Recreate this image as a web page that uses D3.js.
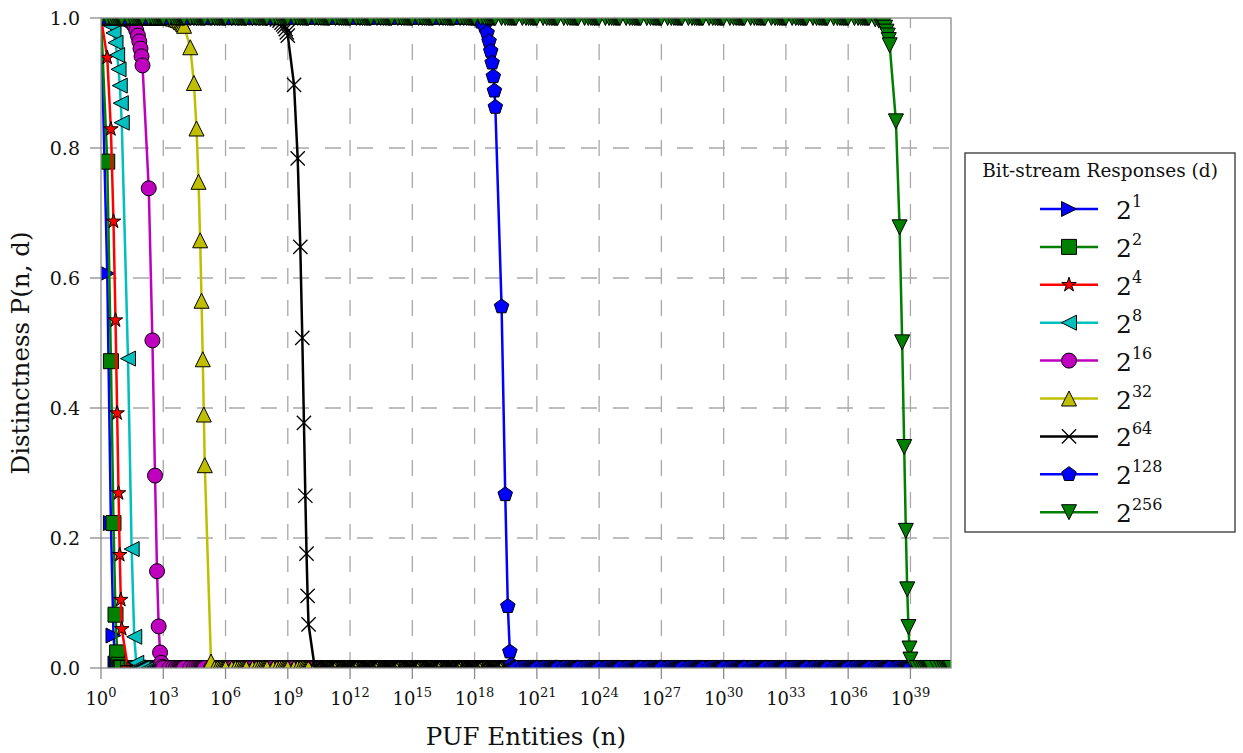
<!DOCTYPE html>
<html>
<head>
<meta charset="utf-8">
<script src="https://cdn.jsdelivr.net/npm/d3@7"></script>
<style>
  html, body { margin: 0; padding: 0; background: #fff; }
  svg { display: block; font-family: "DejaVu Serif", "Liberation Serif", serif; }
</style>
</head>
<body>
<svg id="chart" width="1243" height="753"></svg>
<script>
// ---------- data ----------
// sample grid: n = mantissa x 10^exponent
const mantissas = [1, 2, 3, 4, 5, 6, 7, 8, 9];
const exponents = [0,1,2,3,4,5,6,7,8,9,10,11,12,13,14,15,16,17,18,19,20,
                   21,22,23,24,25,26,27,28,29,30,31,32,33,34,35,36,37,38,39,40];
const xTickExponents = [0,3,6,9,12,15,18,21,24,27,30,33,36,39];
const yTicks = [0.0, 0.2, 0.4, 0.6, 0.8, 1.0];
const seriesLabels = ["1", "2", "4", "8", "16", "32", "64", "128", "256"];
const seriesColors = ["#0000ff", "#008000", "#ff0000", "#00bfbf", "#bf00bf", "#bfbf00", "#000000", "#0000ff", "#008000"];
const seriesMarkers = ["triRight", "square", "star", "triLeft", "circle", "triUp", "cross", "pentagon", "triDown"];

// transition points [n, P]; the curve sits at 1.0 before them and at 0.0 after them
const p2_1 = [[1,1],[2,0.607],[3,0.223],[4,0.050],[5,0.007],[6,0.001]];
const p2_2 = [[1,1],[2,0.779],[3,0.472],[4,0.223],[5,0.082],[6,0.024],[7,0.005],[8,0.001]];
const p2_4 = [[1,1],[2,0.939],[3,0.829],[4,0.687],[5,0.535],[6,0.392],[7,0.269],[8,0.174],[9,0.105],[10,0.060]];
const p2_8 = [[1,1],[2,0.996],[3,0.988],[4,0.977],[5,0.962],[6,0.943],[7,0.921],[8,0.896],[9,0.869],[10,0.839],
              [20,0.476],[30,0.183],[40,0.048],[50,0.008],[60,0.001]];
const p2_16 = [[10,0.999],[20,0.997],[30,0.993],[40,0.988],[50,0.981],[60,0.973],[70,0.964],[80,0.953],[90,0.941],
               [100,0.927],[200,0.738],[300,0.504],[400,0.296],[500,0.149],[600,0.064],[700,0.024],[800,0.008],[900,0.002]];
const p2_32 = [[3000,0.999],[4000,0.998],[5000,0.997],[6000,0.996],[7000,0.994],[8000,0.993],[9000,0.991],
               [10000,0.988],[20000,0.955],[30000,0.900],[40000,0.830],[50000,0.748],[60000,0.658],[70000,0.565],
               [80000,0.475],[90000,0.390],[100000,0.312],[200000,0.010]];
const p2_64 = [[2e8,0.999],[3e8,0.998],[4e8,0.996],[5e8,0.993],[6e8,0.990],[7e8,0.987],[8e8,0.983],[9e8,0.978],
               [1e9,0.973],[2e9,0.897],[3e9,0.784],[4e9,0.648],[5e9,0.508],[6e9,0.377],[7e9,0.265],[8e9,0.176],
               [9e9,0.111],[1e10,0.067]];
const p2_128 = [[1e18,0.999],[2e18,0.994],[3e18,0.987],[4e18,0.977],[5e18,0.964],[6e18,0.949],[7e18,0.931],
                [8e18,0.910],[9e18,0.888],[1e19,0.863],[2e19,0.556],[3e19,0.267],[4e19,0.095],[5e19,0.025],
                [6e19,0.005],[7e19,0.001]];
const p2_256 = [[2e37,0.998],[3e37,0.996],[4e37,0.993],[5e37,0.989],[6e37,0.985],[7e37,0.979],[8e37,0.973],
                [9e37,0.966],[1e38,0.958],[2e38,0.841],[3e38,0.678],[4e38,0.501],[5e38,0.340],[6e38,0.211],
                [7e38,0.121],[8e38,0.063],[9e38,0.030],[1e39,0.013]];
const seriesTables = [p2_1, p2_2, p2_4, p2_8, p2_16, p2_32, p2_64, p2_128, p2_256];

// ---------- layout ----------
const L = 101, R = 951, T = 18, B = 668;
const svg = d3.select("#chart");
const grid = [];
exponents.forEach(m => mantissas.forEach(k => grid.push(Number(k + "e" + m))));

const x = d3.scaleLog().domain([1, d3.max(grid)]).range([L, R]);
const y = d3.scaleLinear().domain([0, 1]).range([B, T]);

function seriesPoints(table) {
  const lx = table.map(d => Math.log10(d[0]));
  const first = lx[0], last = lx[lx.length - 1];
  return grid.map(n => {
    const ln = Math.log10(n);
    let p;
    if (ln < first - 1e-9) p = 1;
    else if (ln > last + 1e-9) p = 0;
    else {
      const i = lx.findIndex(v => Math.abs(v - ln) < 1e-9);
      p = i >= 0 ? table[i][1] : 0;
    }
    return [n, p];
  });
}

svg.append("defs").append("clipPath").attr("id", "plotclip")
  .append("rect").attr("x", L).attr("y", T).attr("width", R - L).attr("height", B - T);

// grid
const gridG = svg.append("g").attr("stroke", "#a8a8a8").attr("stroke-width", 1.3)
  .attr("stroke-dasharray", "16,16").attr("fill", "none");
yTicks.filter(v => v > 0 && v < 1).forEach(v => {
  gridG.append("line").attr("x1", L).attr("x2", R).attr("y1", y(v)).attr("y2", y(v));
});
xTickExponents.filter(e => e > 0).forEach(e => {
  const xv = x(Number("1e" + e));
  gridG.append("line").attr("x1", xv).attr("x2", xv).attr("y1", B).attr("y2", T);
});

// marker shapes
const MS = 15;
function markerPath(kind, s) {
  const h = s / 2;
  switch (kind) {
    case "triUp": return `M0,${-h}L${h},${h}L${-h},${h}Z`;
    case "triDown": return `M0,${h}L${h},${-h}L${-h},${-h}Z`;
    case "triRight": return `M${h},0L${-h},${-h}L${-h},${h}Z`;
    case "triLeft": return `M${-h},0L${h},${-h}L${h},${h}Z`;
    case "square": { const q = s * 0.5; return `M${-q},${-q}H${q}V${q}H${-q}Z`; }
    case "circle": return d3.symbol(d3.symbolCircle, Math.PI * h * h)();
    case "star": {
      const ro = h * 1.02, ri = ro * 0.382; let p = "";
      for (let i = 0; i < 10; i++) {
        const r = i % 2 ? ri : ro, a = -Math.PI / 2 + i * Math.PI / 5;
        p += (i ? "L" : "M") + (r * Math.cos(a)).toFixed(2) + "," + (r * Math.sin(a)).toFixed(2);
      }
      return p + "Z";
    }
    case "pentagon": {
      const r = h * 1.02; let p = "";
      for (let i = 0; i < 5; i++) {
        const a = -Math.PI / 2 + i * 2 * Math.PI / 5;
        p += (i ? "L" : "M") + (r * Math.cos(a)).toFixed(2) + "," + (r * Math.sin(a)).toFixed(2);
      }
      return p + "Z";
    }
    case "cross": { const q = h * 0.95; return `M${-q},${-q}L${q},${q}M${-q},${q}L${q},${-q}`; }
  }
}
function drawMarker(g, kind, color) {
  const p = g.append("path").attr("d", markerPath(kind, MS));
  if (kind === "cross") p.attr("fill", "none").attr("stroke", color).attr("stroke-width", 1.3);
  else p.attr("fill", color).attr("stroke", "#000").attr("stroke-width", 1);
}

// series
const plotG = svg.append("g").attr("clip-path", "url(#plotclip)");
const line = d3.line().x(d => x(d[0])).y(d => y(d[1]));
seriesTables.forEach((tbl, si) => {
  const pts = seriesPoints(tbl);
  const g = plotG.append("g");
  g.append("path").datum(pts).attr("d", line).attr("fill", "none")
    .attr("stroke", seriesColors[si]).attr("stroke-width", 2.5).attr("stroke-linejoin", "round");
  pts.forEach(d => {
    const mg = g.append("g").attr("transform", `translate(${x(d[0])},${y(d[1])})`);
    drawMarker(mg, seriesMarkers[si], seriesColors[si]);
  });
});

// frame
svg.append("rect").attr("x", L).attr("y", T).attr("width", R - L).attr("height", B - T)
  .attr("fill", "none").attr("stroke", "#8c8c8c").attr("stroke-width", 1.3);

// x axis ticks + labels
const axG = svg.append("g");
xTickExponents.forEach(e => {
  const xv = x(Number("1e" + e));
  axG.append("line").attr("x1", xv).attr("x2", xv).attr("y1", B).attr("y2", B + 11)
    .attr("stroke", "#8c8c8c").attr("stroke-width", 1.3);
  const t = axG.append("text").attr("x", xv).attr("y", B + 37).attr("text-anchor", "middle")
    .attr("font-size", 18).attr("fill", "#111");
  t.append("tspan").text("10");
  t.append("tspan").attr("font-size", 13).attr("dy", -8).text(e);
});
yTicks.forEach(v => {
  axG.append("line").attr("x1", L - 11).attr("x2", L).attr("y1", y(v)).attr("y2", y(v))
    .attr("stroke", "#8c8c8c").attr("stroke-width", 1.3);
  axG.append("text").attr("x", L - 21).attr("y", y(v) + 7).attr("text-anchor", "end")
    .attr("font-size", 19).attr("fill", "#111").text(v.toFixed(1));
});

// axis titles
svg.append("text").attr("x", 526).attr("y", 745).attr("text-anchor", "middle")
  .attr("font-size", 24.5).attr("fill", "#111").text("PUF Entities (n)");
svg.append("text").attr("transform", `translate(29,353) rotate(-90)`).attr("text-anchor", "middle")
  .attr("font-size", 24.5).attr("fill", "#111").text("Distinctness P(n, d)");

// legend
const lg = svg.append("g");
lg.append("rect").attr("x", 965).attr("y", 153).attr("width", 270).attr("height", 379)
  .attr("fill", "#fff").attr("stroke", "#333").attr("stroke-width", 1.3);
lg.append("text").attr("x", 1100).attr("y", 177).attr("text-anchor", "middle")
  .attr("font-size", 18.5).attr("fill", "#111").text("Bit-stream Responses (d)");
seriesLabels.forEach((lab, i) => {
  const yy = 209 + i * 37.9;
  lg.append("line").attr("x1", 1040).attr("x2", 1098).attr("y1", yy).attr("y2", yy)
    .attr("stroke", seriesColors[i]).attr("stroke-width", 2.5);
  const mg = lg.append("g").attr("transform", `translate(1069,${yy})`);
  drawMarker(mg, seriesMarkers[i], seriesColors[i]);
  const t = lg.append("text").attr("x", 1116).attr("y", yy + 10).attr("font-size", 25).attr("fill", "#111");
  t.append("tspan").text("2");
  t.append("tspan").attr("font-size", 16).attr("dy", -12).text(lab);
});
</script>
</body>
</html>
